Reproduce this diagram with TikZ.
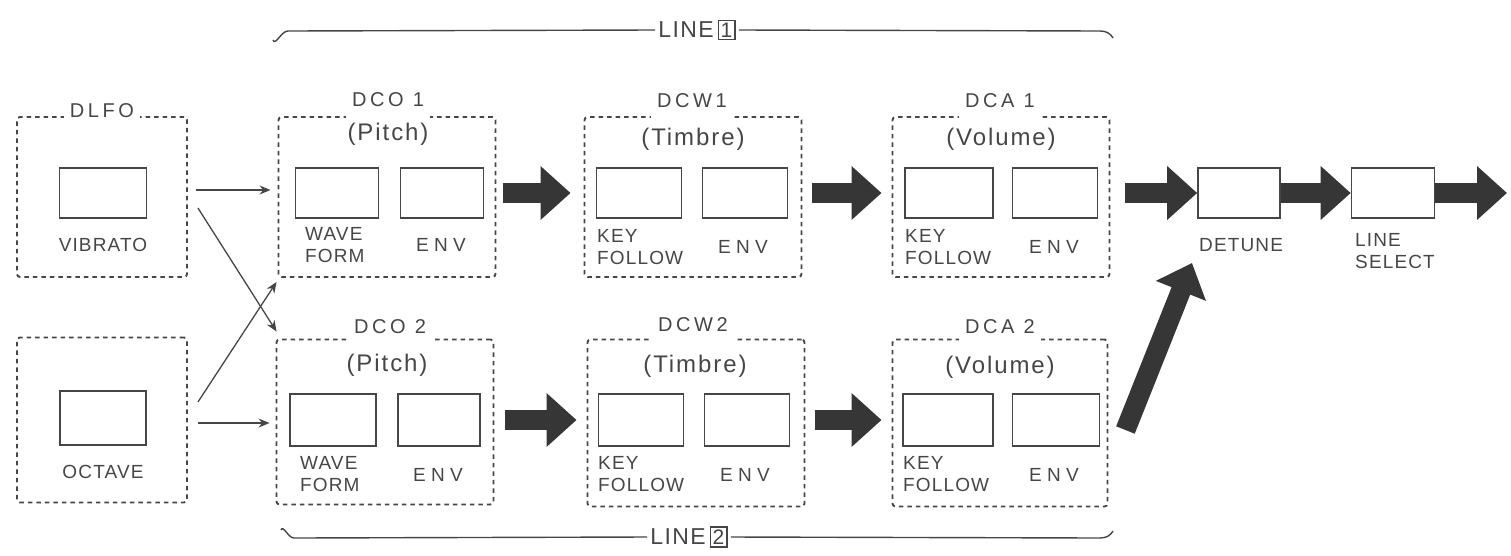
\documentclass[tikz,border=0pt]{standalone}
\usepackage{fontspec}
\setmainfont{Liberation Sans}
\newfontfamily\titlefont[LetterSpace=18]{Liberation Sans}
\newfontfamily\capfont[LetterSpace=8]{Liberation Sans}
\newfontfamily\lblfont[LetterSpace=6]{Liberation Sans}
\newfontfamily\envfont[LetterSpace=28]{Liberation Sans}
\usetikzlibrary{arrows.meta}
\definecolor{ink}{HTML}{464646}
\definecolor{heavy}{HTML}{363636}
\newcommand{\numbox}[1]{{\setlength{\fboxsep}{2pt}\setlength{\fboxrule}{1.2pt}\fcolorbox{ink}{white}{\fontsize{21}{21}\selectfont #1}}}

\begin{document}
\begin{tikzpicture}[x=1pt,y=-1pt]
  % Define styles
  \tikzstyle{group} = [draw=ink, line width=1.9pt, dash pattern=on 4.5pt off 4pt, rounded corners=3pt, minimum width=217pt, minimum height=160pt]
  \tikzstyle{unit} = [draw=ink, line width=1.6pt, fill=white, minimum width=85pt, minimum height=50pt, inner sep=0pt]
  \tikzstyle{title} = [fill=white, text=ink, font=\titlefont\fontsize{20}{22}\selectfont, inner xsep=6pt, inner ysep=0pt, text depth=13pt, anchor=base]
  \tikzstyle{caption} = [text=ink, font=\capfont\fontsize{24}{26}\selectfont, inner sep=0pt]
  \tikzstyle{lbl} = [text=ink, font=\lblfont\fontsize{19}{22}\selectfont, inner sep=0pt, align=left]
  \tikzstyle{envlbl} = [text=ink, font=\envfont\fontsize{19}{22}\selectfont, inner sep=0pt]
  \tikzstyle{linetag} = [fill=white, text=ink, font=\lblfont\fontsize{23}{25}\selectfont, inner xsep=3pt, inner ysep=0pt]
  \tikzstyle{thin} = [draw=ink, line width=1.3pt, -{Stealth[length=11pt,width=9pt]}]
  \tikzstyle{fat} = [draw=heavy, line width=20pt, -{Triangle[length=30pt,width=52pt]}]
  \tikzstyle{brace} = [draw=ink, line width=1.4pt]

  \useasboundingbox (0,0) rectangle (1511,555);

  % DLFO and octave blocks
  \node[group, minimum width=170pt] (dlfo) at (102,197) {};
  \node[title, anchor=center] (dlfoT) at (102,117) {DLFO};
  \node[unit, minimum width=87pt] (vibrato) at (103,193) {};
  \node[lbl] (vibratoL) at (103,245) {VIBRATO};

  \node[group, minimum width=170pt, minimum height=165pt] (octgrp) at (102,420) {};
  \node[unit, minimum width=86pt, minimum height=54pt] (octave) at (103,418) {};
  \node[lbl] (octaveL) at (103,472) {OCTAVE};

  % Line 1
  \node[group] (dcoA) at (387,197) {};
  \node[title] (dcoAT) at (388,106) {DCO 1};
  \node[caption] (dcoAC) at (388,134) {(Pitch)};
  \node[unit, minimum width=83pt] (dcoAwave) at (337,193) {};
  \node[unit, minimum width=83pt] (dcoAenv) at (442,193) {};
  \node[lbl, anchor=north west] (dcoAwaveL) at (305,227) {WAVE\\FORM};
  \node[envlbl] (dcoAenvL) at (441,245) {ENV};

  \node[group] (dcwA) at (693,197) {};
  \node[title] (dcwAT) at (692,107) {DCW1};
  \node[caption] (dcwAC) at (693,139) {(Timbre)};
  \node[unit] (dcwAkey) at (639,193) {};
  \node[unit] (dcwAenv) at (745,193) {};
  \node[lbl, anchor=north west] (dcwAkeyL) at (597,229) {KEY\\FOLLOW};
  \node[envlbl] (dcwAenvL) at (743,247) {ENV};

  \node[group] (dcaA) at (1001,197) {};
  \node[title] (dcaAT) at (1000,107) {DCA 1};
  \node[caption] (dcaAC) at (1001,139) {(Volume)};
  \node[unit, minimum width=88pt] (dcaAkey) at (949,193) {};
  \node[unit] (dcaAenv) at (1055,193) {};
  \node[lbl, anchor=north west] (dcaAkeyL) at (905,229) {KEY\\FOLLOW};
  \node[envlbl] (dcaAenvL) at (1054,247) {ENV};

  % Line 2
  \node[group, minimum height=165pt] (dcoB) at (385,422) {};
  \node[title] (dcoBT) at (390,333) {DCO 2};
  \node[caption] (dcoBC) at (387,365) {(Pitch)};
  \node[unit, minimum width=86pt, minimum height=52pt] (dcoBwave) at (333,420) {};
  \node[unit, minimum width=82pt, minimum height=52pt] (dcoBenv) at (439,420) {};
  \node[lbl, anchor=north west] (dcoBwaveL) at (300,456) {WAVE\\FORM};
  \node[envlbl] (dcoBenvL) at (438,475) {ENV};

  \node[group, minimum height=167pt] (dcwB) at (696,423) {};
  \node[title] (dcwBT) at (693,331) {DCW2};
  \node[caption] (dcwBC) at (695,366) {(Timbre)};
  \node[unit, minimum height=52pt] (dcwBkey) at (641,420) {};
  \node[unit, minimum height=52pt] (dcwBenv) at (747,420) {};
  \node[lbl, anchor=north west] (dcwBkeyL) at (598,456) {KEY\\FOLLOW};
  \node[envlbl] (dcwBenvL) at (745,475) {ENV};

  \node[group, minimum width=215pt, minimum height=167pt] (dcaB) at (1000,423) {};
  \node[title] (dcaBT) at (1000,333) {DCA 2};
  \node[caption] (dcaBC) at (1000,367) {(Volume)};
  \node[unit, minimum width=90pt, minimum height=52pt] (dcaBkey) at (948,420) {};
  \node[unit, minimum width=87pt, minimum height=52pt] (dcaBenv) at (1056,420) {};
  \node[lbl, anchor=north west] (dcaBkeyL) at (903,456) {KEY\\FOLLOW};
  \node[envlbl] (dcaBenvL) at (1054,475) {ENV};

  % Output stage
  \node[unit, minimum width=82pt] (detune) at (1239,193) {};
  \node[lbl, anchor=west] (detuneL) at (1199,245) {DETUNE};
  \node[unit, minimum width=83pt] (linesel) at (1393,193) {};
  \node[lbl, anchor=north west] (lineselL) at (1355,233) {LINE\\SELECT};
  \coordinate (out) at (1507,193);
  \coordinate (mixin) at (1192,263);

  % Modulation inputs
  \draw[thin] ([xshift=8pt]dlfo.east |- 0,190) -- ([xshift=-7pt]dcoA.west |- 0,190);
  \draw[thin] ([shift={(10,11)}]dlfo.east) -- ([shift={(1,-7)}]dcoB.north west);
  \draw[thin] ([shift={(10,-18)}]octgrp.east) -- ([shift={(-1,4)}]dcoA.south west);
  \draw[thin] ([xshift=10pt]octgrp.east |- 0,423) -- ([xshift=-6pt]dcoB.west |- 0,423);

  % Signal flow
  \draw[fat, shorten <=7pt, shorten >=13pt] (dcoA.east |- dcoAenv.east) -- (dcwA.west |- dcwAkey.west);
  \draw[fat, shorten <=10pt, shorten >=10pt] (dcwA.east |- dcwAenv.east) -- (dcaA.west |- dcaAkey.west);
  \draw[fat, shorten <=15pt] (dcaA.east |- dcaAenv.east) -- (detune.west);
  \draw[fat, shorten <=11pt, shorten >=10pt] (dcoB.east |- dcoBenv.east) -- (dcwB.west |- dcwBkey.west);
  \draw[fat, shorten <=10pt, shorten >=10pt] (dcwB.east |- dcwBenv.east) -- (dcaB.west |- dcaBkey.west);
  \draw[fat] ([shift={(17,7)}]dcaB.east) -- (mixin);
  \draw[fat] (detune.east) -- (linesel.west);
  \draw[fat] (linesel.east) -- (out);

  % Line brackets
  \node[linetag] (lineA) at (697,30) {LINE\,\numbox{1}};
  \draw[brace] (273,40) to[out=-70,in=180] (288,31) -- (lineA.west);
  \draw[brace] (lineA.east) -- (1100,31) to[out=0,in=120] (1113,38);
  \node[linetag] (lineB) at (689,537) {LINE\,\numbox{2}};
  \draw[brace] (281,530) to[out=70,in=180] (294,538) -- (lineB.west);
  \draw[brace] (lineB.east) -- (1100,538) to[out=0,in=-120] (1113,531);
\end{tikzpicture}
\end{document}
